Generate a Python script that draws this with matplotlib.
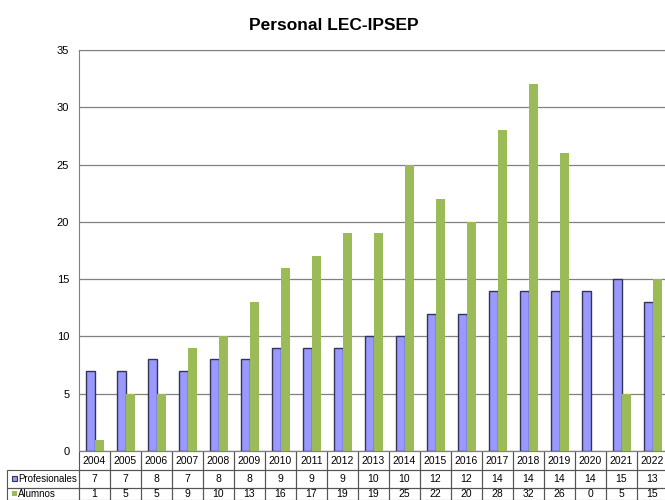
import numpy as np
import matplotlib
matplotlib.use("Agg")
import matplotlib.pyplot as plt
from matplotlib.patches import Rectangle

years = [str(y) for y in range(2004, 2023)]
profesionales = [7, 7, 8, 7, 8, 8, 9, 9, 9, 10, 10, 12, 12, 14, 14, 14, 14, 15, 13]
alumnos = [1, 5, 5, 9, 10, 13, 16, 17, 19, 19, 25, 22, 20, 28, 32, 26, 0, 5, 15]

plt.rcParams['font.family'] = ['Liberation Sans', 'DejaVu Sans']

fig = plt.figure(figsize=(6.65, 5), dpi=100)
# plot area runs slightly past the right edge, like the original screenshot
ax = fig.add_axes([79/665, 49/500, 589/665, 401/500])

x = np.arange(len(years))
w = 9/31
ax.bar(x - 0.5 + 7/31, profesionales, width=w, align='edge', color='#9999FF',
       edgecolor='#333355', linewidth=1.0, zorder=3)
ax.bar(x - 0.5 + 16/31, alumnos, width=w, align='edge', color='#9BBB59',
       edgecolor='none', zorder=3)

ax.set_xlim(-0.5, len(years) - 0.5)
ax.set_ylim(0, 35)
ax.set_yticks(range(0, 36, 5))
ax.set_xticks([])
ax.yaxis.grid(True, color='#808080', linewidth=0.9, zorder=0)
for s in ax.spines.values():
    s.set_color('#808080')
ax.tick_params(axis='y', length=0, labelsize=8, pad=7)

fig.text(334/665, 1 - 25/500, 'Personal LEC-IPSEP', ha='center', va='center',
         fontsize=12.5, fontweight='bold')

# data table under the plot (last row cut by the figure edge)
def px(xp, yp):
    return (xp - 79) / 589, (451 - yp) / 401

lab_w = 72
cell_text = [[''] + years,
             [''] + [str(v) for v in profesionales],
             [''] + [str(v) for v in alumnos]]
col_w = [lab_w] + [31] * len(years)
row_h = [19, 18, 12]
tbl = ax.table(cellText=cell_text, colWidths=[c / sum(col_w) for c in col_w],
               cellLoc='center',
               bbox=[-lab_w/589, -sum(row_h)/401, (lab_w + 589)/589, sum(row_h)/401])
tbl.auto_set_font_size(False)
tbl.set_fontsize(7.5)
for (r, c), cell in tbl.get_celld().items():
    cell.set_edgecolor('#555555')
    cell.set_linewidth(0.8)
    cell.set_facecolor('none')
    cell.set_height(row_h[r] / 401)
tbl[0, 0].visible_edges = ''

# row labels with legend keys
ax.add_patch(Rectangle(px(12, 481), 5/589, 5/401, transform=ax.transAxes,
                       facecolor='#9999FF', edgecolor='#333355', lw=0.8,
                       clip_on=False))
ax.add_patch(Rectangle(px(12, 496), 5/589, 5/401, transform=ax.transAxes,
                       facecolor='#9BBB59', edgecolor='none', clip_on=False))
ax.text(*px(18, 479), 'Profesionales', transform=ax.transAxes, fontsize=7,
        ha='left', va='center')
ax.text(*px(18, 494), 'Alumnos', transform=ax.transAxes, fontsize=7,
        ha='left', va='center')

fig.savefig('out.png', dpi=100)
